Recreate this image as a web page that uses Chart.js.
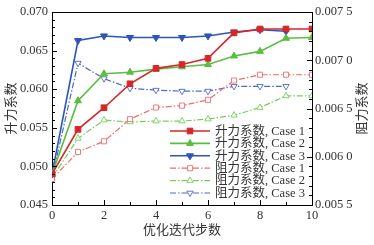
<!DOCTYPE html>
<html>
<head>
<meta charset="utf-8">
<script src="https://cdn.jsdelivr.net/npm/chart.js@4.4.1/dist/chart.umd.min.js"></script>
<style>
html, body { margin: 0; padding: 0; background: #fff; }
canvas { display: block; }
</style>
</head>
<body>
<canvas id="cvs" width="374" height="245"></canvas>
<script>
var steps = [0, 1, 2, 3, 4, 5, 6, 7, 8, 9, 10]
var liftCase1 = [0.0490, 0.0548, 0.0576, 0.0607, 0.0627, 0.0632, 0.0640, 0.0673, 0.0678, 0.0678, 0.0678]
var liftCase2 = [0.0490, 0.0585, 0.0620, 0.0622, 0.0626, 0.0629, 0.0632, 0.0643, 0.0649, 0.0666, 0.0667]
var liftCase3 = [0.0490, 0.0663, 0.0669, 0.0667, 0.0667, 0.0667, 0.0669, 0.0674, 0.0677, 0.0675]
var dragCase1 = [0.00577, 0.00605, 0.00616, 0.00639, 0.00651, 0.00653, 0.00659, 0.00679, 0.00685, 0.00685, 0.00685]
var dragCase2 = [0.00578, 0.00619, 0.00638, 0.00636, 0.00637, 0.00637, 0.00639, 0.00643, 0.00651, 0.00663, 0.00663]
var dragCase3 = [0.00578, 0.00697, 0.00681, 0.00671, 0.00669, 0.00668, 0.00668, 0.00673, 0.00673, 0.00673]
var seriesNames = ['升力系数, Case 1', '升力系数, Case 2', '升力系数, Case 3',
                   '阻力系数, Case 1', '阻力系数, Case 2', '阻力系数, Case 3']
var liftTicks = [0.045, 0.050, 0.055, 0.060, 0.065, 0.070]
var dragTicks = [0.0055, 0.0060, 0.0065, 0.0070, 0.0075]

var serif = '"Liberation Serif", "Noto Sans CJK SC", serif'
var red = 'rgb(214, 39, 40)', green = 'rgb(90, 190, 65)', blue = 'rgb(45, 85, 185)'
var redL = 'rgb(236, 110, 110)', greenL = 'rgb(120, 205, 90)', blueL = 'rgb(80, 105, 195)'
var dashDot = [6, 2, 1.5, 2]

function pts(vals){
	var out = []
	for (var i = 0; i < vals.length; i++) out.push({x: steps[i], y: vals[i]})
	return out
}

function solid(label, vals, color, style, rot){
	return {label: label, data: pts(vals), yAxisID: 'y', borderColor: color, backgroundColor: color,
		borderWidth: 1.6, pointStyle: style, pointRotation: rot || 0, pointRadius: 4,
		pointBorderColor: color, pointBackgroundColor: color, pointBorderWidth: 1}
}
function dashed(label, vals, color, style, rot){
	return {label: label, data: pts(vals), yAxisID: 'y1', borderColor: color, backgroundColor: '#fff',
		borderWidth: 1.2, borderDash: dashDot, pointStyle: style, pointRotation: rot || 0, pointRadius: 3.6,
		pointBorderColor: color, pointBackgroundColor: '#fff', pointBorderWidth: 0.9}
}

// inward tick marks, top border, right title, legend inside the plot
var decor = {
	id: 'decor',
	afterDatasetsDraw: function(chart){
		var ctx = chart.ctx, a = chart.chartArea
		var sx = chart.scales.x, sy = chart.scales.y, sy1 = chart.scales.y1
		ctx.save()
		ctx.strokeStyle = '#000'
		ctx.lineWidth = 1
		ctx.beginPath()
		ctx.moveTo(a.left, a.top + 0.5); ctx.lineTo(a.right, a.top + 0.5)
		var v, p, len
		for (v = 0; v <= 10; v++){
			p = Math.round(sx.getPixelForValue(v)) + 0.5
			len = v % 2 === 0 ? 5 : 3
			ctx.moveTo(p, a.bottom); ctx.lineTo(p, a.bottom - len)
		}
		for (v = 45; v <= 70; v++){
			p = Math.round(sy.getPixelForValue(v / 1000)) + 0.5
			len = v % 5 === 0 ? 5 : 3
			ctx.moveTo(a.left, p); ctx.lineTo(a.left + len, p)
		}
		for (v = 55; v <= 75; v++){
			p = Math.round(sy1.getPixelForValue(v / 10000)) + 0.5
			len = v % 5 === 0 ? 5 : 3
			ctx.moveTo(a.right, p); ctx.lineTo(a.right - len, p)
		}
		ctx.stroke()

		// right axis title, read bottom to top
		ctx.fillStyle = '#333'
		ctx.font = '13px ' + serif
		ctx.translate(363, (a.top + a.bottom) / 2)
		ctx.rotate(-Math.PI / 2)
		ctx.textAlign = 'center'
		ctx.textBaseline = 'middle'
		ctx.fillText('阻力系数', 0, 0)
		ctx.restore()

		// legend
		ctx.save()
		ctx.font = '12.5px ' + serif
		ctx.textBaseline = 'middle'
		ctx.textAlign = 'left'
		chart.data.datasets.forEach(function(ds, i){
			var y = 131 + i * 12.4
			ctx.strokeStyle = ds.borderColor
			ctx.lineWidth = ds.borderWidth
			ctx.setLineDash(ds.borderDash || [])
			ctx.beginPath()
			ctx.moveTo(170, y); ctx.lineTo(210, y)
			ctx.stroke()
			ctx.setLineDash([])
			var el = chart.getDatasetMeta(i).data[0]
			if (Chart.helpers && Chart.helpers.drawPoint && el){
				var o = el.options
				ctx.fillStyle = o.backgroundColor
				ctx.strokeStyle = o.borderColor
				ctx.lineWidth = o.borderWidth
				Chart.helpers.drawPoint(ctx, {pointStyle: o.pointStyle, rotation: o.rotation, radius: o.radius, borderWidth: o.borderWidth}, 190, y)
			}
			ctx.fillStyle = '#333'
			ctx.fillText(ds.label, 215, y + 0.5)
		})
		ctx.restore()
	}
}

var ctx = document.getElementById('cvs').getContext('2d')
var chart = new Chart(ctx, {
	type: 'line',
	data: {
		datasets: [
			solid(seriesNames[0], liftCase1, red, 'rect'),
			solid(seriesNames[1], liftCase2, green, 'triangle'),
			solid(seriesNames[2], liftCase3, blue, 'triangle', 180),
			dashed(seriesNames[3], dragCase1, redL, 'rect'),
			dashed(seriesNames[4], dragCase2, greenL, 'triangle'),
			dashed(seriesNames[5], dragCase3, blueL, 'triangle', 180)
		]
	},
	options: {
		responsive: false,
		animation: false,
		devicePixelRatio: 1,
		layout: {padding: {top: 12, left: 0, right: 0, bottom: 0}},
		plugins: {legend: {display: false}, tooltip: {enabled: false}},
		scales: {
			x: {
				type: 'linear', min: 0, max: 10,
				afterFit: function(s){ s.height = 40 },
				afterBuildTicks: function(s){ s.ticks = steps.filter(function(v){ return v % 2 === 0 }).map(function(v){ return {value: v} }) },
				grid: {display: false, drawTicks: false},
				border: {display: true, color: '#000', width: 1},
				ticks: {padding: 3, color: '#333', font: {family: serif, size: 12.5}, maxRotation: 0},
				title: {display: true, text: '优化迭代步数', color: '#333', font: {family: serif, size: 13}, padding: {top: 0, bottom: 7}}
			},
			y: {
				type: 'linear', position: 'left', min: 0.045, max: 0.070,
				afterFit: function(s){ s.width = 52 },
				afterBuildTicks: function(s){ s.ticks = liftTicks.map(function(v){ return {value: v} }) },
				grid: {display: false, drawTicks: false},
				border: {display: true, color: '#000', width: 1},
				ticks: {padding: 4, color: '#333', font: {family: serif, size: 12.5},
					callback: function(v){ return v.toFixed(3) }},
				title: {display: true, text: '升力系数', color: '#333', font: {family: serif, size: 13}, padding: {top: 4, bottom: 0}}
			},
			y1: {
				type: 'linear', position: 'right', min: 0.0055, max: 0.0075,
				afterFit: function(s){ s.width = 62 },
				afterBuildTicks: function(s){ s.ticks = dragTicks.map(function(v){ return {value: v} }) },
				grid: {display: false, drawTicks: false},
				border: {display: true, color: '#000', width: 1},
				ticks: {padding: 3, color: '#333', font: {family: serif, size: 12.5},
					callback: function(v){ var s = v.toFixed(4); return s.slice(0, 5) + ' ' + s.slice(5) }}
			}
		}
	},
	plugins: [decor]
})
</script>
</body>
</html>
